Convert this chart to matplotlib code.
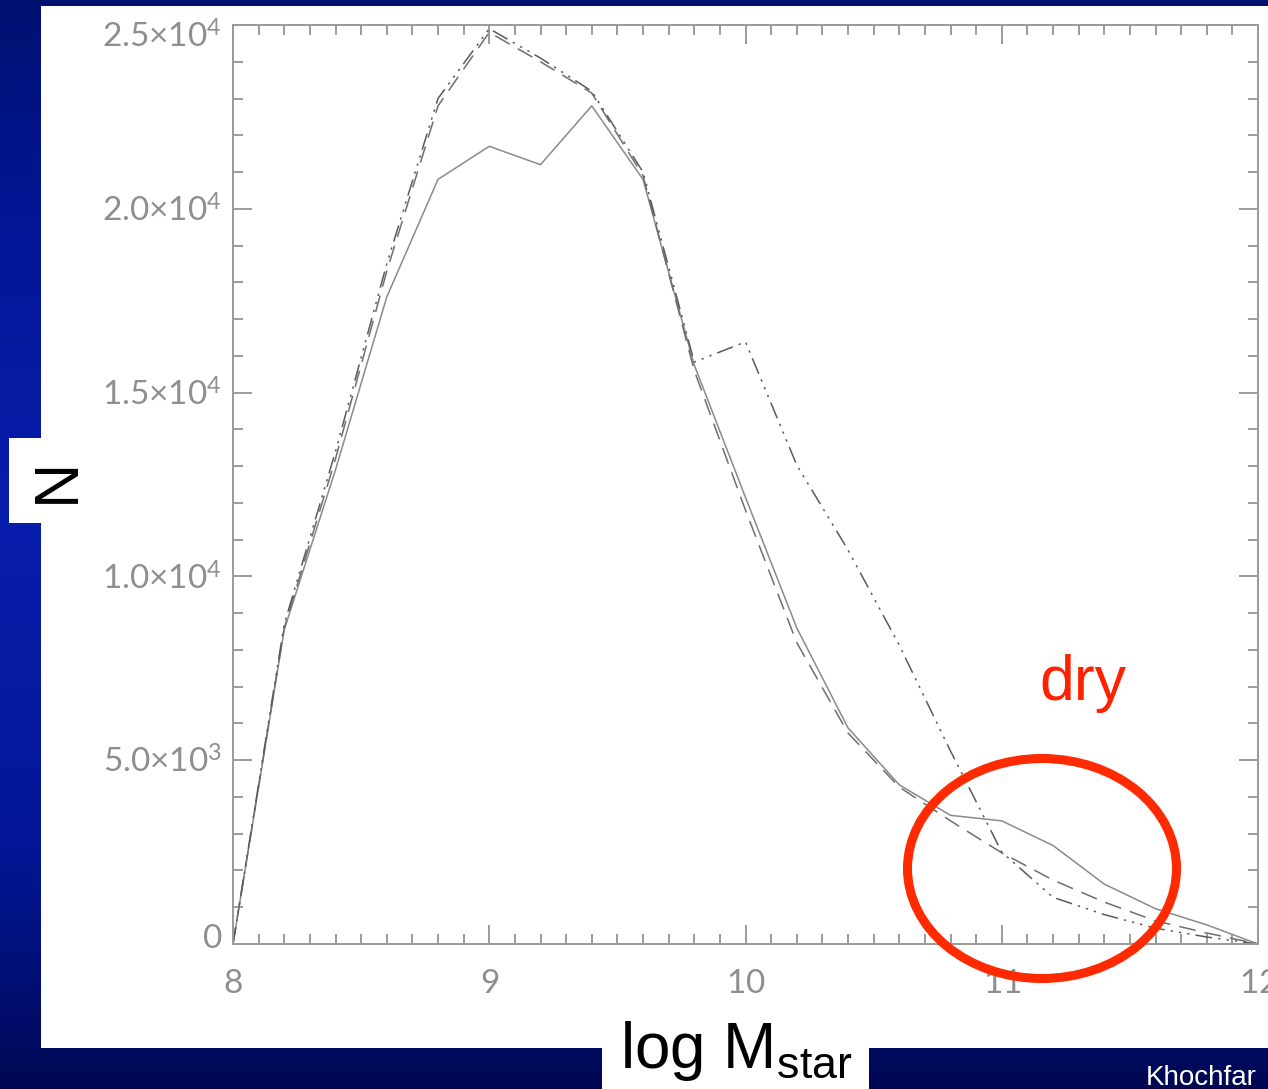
import matplotlib
matplotlib.use('Agg')
import matplotlib.pyplot as plt
from matplotlib.patches import Rectangle, Ellipse
from matplotlib.ticker import MultipleLocator
import matplotlib.transforms as mtransforms
import numpy as np

# ---------------- data ----------------
log_mstar = [8.0, 8.2, 8.4, 8.6, 8.8, 9.0, 9.2, 9.4, 9.6, 9.8, 10.0,
             10.2, 10.4, 10.6, 10.8, 11.0, 11.2, 11.4, 11.6, 11.8, 12.0]
n_solid = [0, 8550, 12900, 17600, 20800, 21700, 21200, 22800, 20800, 15750, 12150,
           8600, 5880, 4330, 3500, 3350, 2680, 1630, 960, 520, 0]
n_dashed = [0, 8600, 13200, 18300, 22800, 24800, 24000, 23150, 20900, 15600, 11800,
            8200, 5740, 4270, 3350, 2480, 1740, 1140, 630, 300, 0]
n_dashdot = [0, 8700, 13400, 18500, 23000, 24900, 24100, 23200, 21000, 15830, 16380,
             13030, 10720, 8130, 5250, 2500, 1270, 800, 430, 190, 0]

x_ticks = [8, 9, 10, 11, 12]
x_tick_labels = ['8', '9', '10', '11', '12']
y_ticks = [0, 5000, 10000, 15000, 20000, 25000]
y_tick_labels = ['0', '5.0{\\times}10^{3}', '1.0{\\times}10^{4}', '1.5{\\times}10^{4}',
                 '2.0{\\times}10^{4}', '2.5{\\times}10^{4}']

# ---------------- style ----------------
W, H = 1268, 1089
plt.rcParams['mathtext.fontset'] = 'custom'
plt.rcParams['mathtext.rm'] = 'Liberation Sans'
plt.rcParams['mathtext.sf'] = 'Lato'
plt.rcParams['font.family'] = ['Liberation Sans', 'DejaVu Sans']

fig = plt.figure(figsize=(W / 100, H / 100), dpi=100)
fig.patch.set_facecolor('#000a60')

# slide background gradient
bg = fig.add_axes([0, 0, 1, 1], zorder=-10)
ys = np.linspace(0, 1, H)
stops = [0.0, 0.2, 0.48, 0.78, 0.92, 1.0]
cols = np.array([[0, 16, 112], [2, 22, 150], [8, 30, 172], [2, 22, 150],
                 [0, 14, 110], [0, 8, 82]]) / 255.0
img = np.zeros((H, 1, 3))
for c in range(3):
    img[:, 0, c] = np.interp(ys, stops, cols[:, c])
bg.imshow(img, aspect='auto', extent=[0, 1, 0, 1])
bg.axis('off')


def white_box(x0, y0, x1, y1):
    fig.add_artist(Rectangle((x0 / W, 1 - y1 / H), (x1 - x0) / W, (y1 - y0) / H,
                             transform=fig.transFigure, facecolor='white',
                             edgecolor='none', zorder=-5))


white_box(41, 6, W, 1048)
white_box(9, 438, 41, 523)
white_box(602, 1048, 869, H)

# ---------------- main axes ----------------
ax = fig.add_axes([233 / W, 1 - 944 / H, (1258 - 233) / W, (944 - 25) / H])
ax.set_facecolor('none')

ax.plot(log_mstar, n_solid, color='#8a8a8a', lw=1.1, solid_joinstyle='miter')
ax.plot(log_mstar, n_dashed, color='#6e6e6e', lw=1.1, ls=(0, (11, 6)))
ax.plot(log_mstar, n_dashdot, color='#5a5a5a', lw=1.1,
        ls=(0, (11, 4, 1.5, 4, 1.5, 4, 1.5, 4)))

ax.set_xlim(8, 12)
ax.set_ylim(0, 25000)
for s in ax.spines.values():
    s.set_color('#9a9a9a')
    s.set_linewidth(1.4)

ax.set_xticks(x_ticks)
ax.set_xticklabels([r'$\mathsf{%s}$' % t for t in x_tick_labels])
ax.set_yticks(y_ticks)
ax.set_yticklabels([r'$\mathsf{%s}$' % t for t in y_tick_labels])
ax.xaxis.set_minor_locator(MultipleLocator(0.1))
ax.yaxis.set_minor_locator(MultipleLocator(1000))
ax.tick_params(which='both', direction='in', top=True, right=True,
               color='#8a8a8a', width=1.2, labelcolor='#8e8e8e', labelsize=24)
ax.tick_params(which='major', length=14)
ax.tick_params(which='minor', length=7)
ax.tick_params(axis='x', pad=18)
ax.tick_params(axis='y', pad=8)

ylabels = ax.get_yticklabels()
ylabels[0].set_transform(ylabels[0].get_transform() +
                         mtransforms.ScaledTranslation(0, 8 / 100, fig.dpi_scale_trans))
ylabels[-1].set_transform(ylabels[-1].get_transform() +
                          mtransforms.ScaledTranslation(0, -10 / 100, fig.dpi_scale_trans))

# ---------------- annotations ----------------
fig.add_artist(Ellipse((1042 / W, 1 - 868.5 / H), 269 / W, 220 / H,
                       transform=fig.transFigure, fill=False,
                       edgecolor='#ff2a00', lw=6.5, zorder=5))
fig.text(1083 / W, 1 - 700 / H, 'dry', ha='center', va='baseline',
         fontsize=45, color='#ff2200')
fig.text(57 / W, 1 - 480 / H, 'N', rotation=90, ha='center', va='center',
         fontsize=45, color='black')
fig.text(620 / W, 1 - 1068 / H, r'log M$_{\mathrm{star}}$', ha='left',
         va='baseline', fontsize=46, color='black')
fig.text(1257 / W, 1 - 1085 / H, 'Khochfar', ha='right', va='baseline',
         fontsize=20, color='white')

fig.savefig('out.png', dpi=100, facecolor=fig.get_facecolor())
